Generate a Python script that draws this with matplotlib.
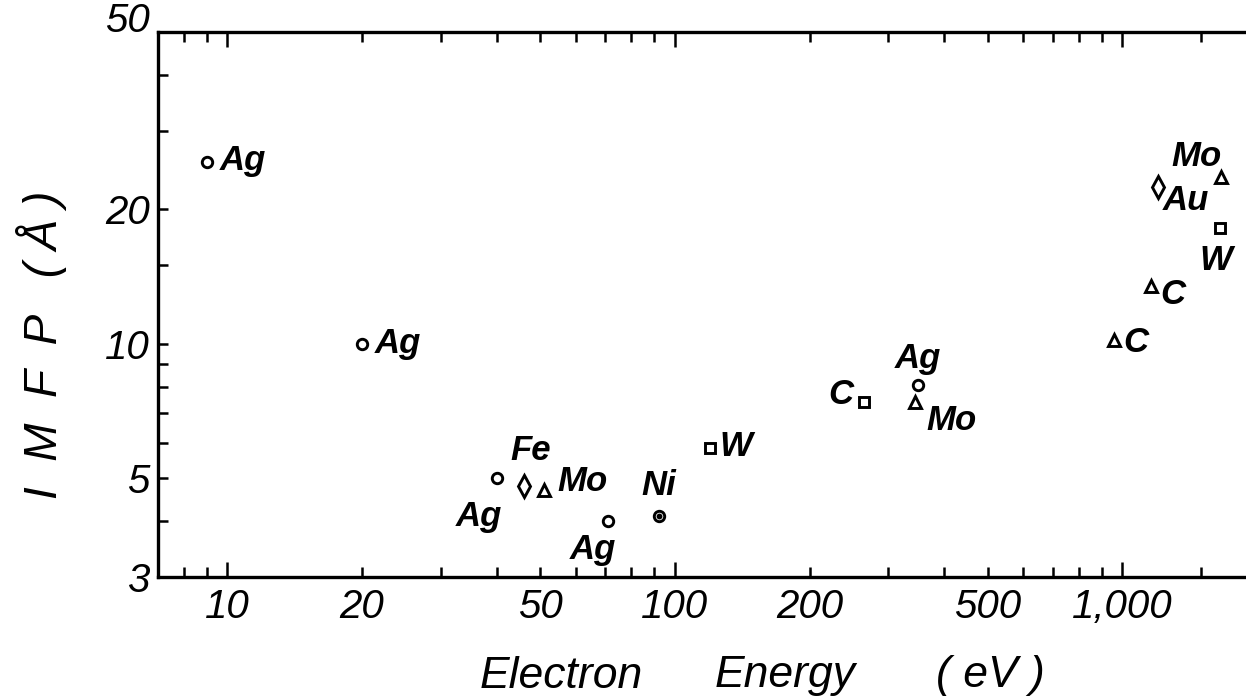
import matplotlib
matplotlib.use('Agg')
import matplotlib.pyplot as plt
from matplotlib.ticker import FixedLocator, NullFormatter
from matplotlib.transforms import ScaledTranslation

plt.rcParams['font.family'] = ['Liberation Sans', 'DejaVu Sans']

# ---------------- data ----------------
elements = ['Ag', 'Ag', 'Ag', 'Fe', 'Mo', 'Ag', 'Ni', 'W',
            'C', 'Ag', 'Mo', 'C', 'C', 'W', 'Au', 'Mo']
energy_eV = [9, 20, 40, 46, 51, 71, 92, 120,
             265, 350, 345, 960, 1160, 1650, 1200, 1660]
imfp_A = [25.5, 10.0, 5.0, 4.8, 4.7, 4.0, 4.1, 5.85,
          7.4, 8.1, 7.4, 10.2, 13.5, 18.2, 22.5, 23.7]
marker_kind = ['o', 'o', 'o', 'd', '^', 'o', 'o.', 's',
               's', 'o', '^', '^', '^', 's', 'd', '^']

x_tick_values = [10, 20, 50, 100, 200, 500, 1000]
x_tick_labels = ['10', '20', '50', '100', '200', '500', '1,000']
x_long_ticks = [10, 100, 1000]
x_minor_values = [8, 9, 30, 40, 60, 70, 80, 90, 300, 400, 600, 700, 800, 900, 1500]
y_tick_values = [3, 5, 10, 20, 50]
y_tick_labels = ['3', '5', '10', '20', '50']
y_minor_values = [4, 6, 7, 8, 9, 15, 30, 40]

# label offsets in pixels relative to the marker (layout only)
label_offsets = [(13, 2, 'left'), (13, 0, 'left'), (-18, -38, 'center'), (7, 35, 'center'),
                 (13, 9, 'left'), (-15, -28, 'center'), (0, 31, 'center'), (9, 1, 'left'),
                 (-11, 8, 'right'), (0, 26, 'center'), (11, -18, 'left'), (9, -3, 'left'),
                 (9, -9, 'left'), (-4, -33, 'center'), (5, -14, 'left'), (-24, 20, 'center')]

# ---------------- figure ----------------
W, H = 1246, 700
fig = plt.figure(figsize=(W / 100, H / 100), dpi=100)
left_px, right_px, top_px, bottom_px = 158, 1257, 32, 577
ax = fig.add_axes([left_px / W, 1 - bottom_px / H,
                   (right_px - left_px) / W, (bottom_px - top_px) / H])
ax.set_xscale('log')
ax.set_yscale('log')
ax.set_xlim(7, 2000)
ax.set_ylim(3, 50)

msizes = {'o': 7.5, '^': 8, 's': 6.5, 'd': 11}
for e, x, y, m, (dx, dy, ha) in zip(elements, energy_eV, imfp_A, marker_kind, label_offsets):
    base = m[0]
    ax.plot([x], [y], linestyle='none', marker=base, markersize=msizes[base],
            markerfacecolor='white', markeredgecolor='black', markeredgewidth=2.1,
            clip_on=False, zorder=3)
    if m == 'o.':
        ax.plot([x], [y], linestyle='none', marker='o', markersize=3.2,
                markerfacecolor='black', markeredgecolor='black', zorder=4, clip_on=False)
    ax.annotate(e, (x, y), xytext=(dx, dy), textcoords='offset pixels',
                ha=ha, va='center', fontsize=25, fontstyle='italic',
                fontweight='bold', color='black')

# ticks
ax.xaxis.set_major_locator(FixedLocator(x_tick_values))
ax.set_xticklabels(x_tick_labels)
ax.xaxis.set_minor_locator(FixedLocator(x_minor_values))
ax.xaxis.set_minor_formatter(NullFormatter())
ax.yaxis.set_major_locator(FixedLocator(y_tick_values))
ax.set_yticklabels(y_tick_labels)
ax.yaxis.set_minor_locator(FixedLocator(y_minor_values))
ax.yaxis.set_minor_formatter(NullFormatter())

ax.tick_params(which='both', direction='in', top=True, right=True,
               width=1.8, color='black')
ax.tick_params(which='major', length=7.5)
ax.tick_params(which='minor', length=7.5)
ax.tick_params(axis='x', which='major', labelsize=29, pad=8)
ax.tick_params(axis='y', which='major', labelsize=29, pad=6)
for lab in ax.get_xticklabels() + ax.get_yticklabels():
    lab.set_fontstyle('italic')

fig.canvas.draw()
for val, t in zip(x_tick_values, ax.xaxis.get_major_ticks()):
    if val in x_long_ticks:
        t.tick1line.set_markersize(11)
        t.tick2line.set_markersize(11)
# the top label "50" sits a little above its tick in the original
for val, t in zip(y_tick_values, ax.yaxis.get_major_ticks()):
    if val == 50:
        t.label1.set_transform(t.label1.get_transform() +
                               ScaledTranslation(0, 15 / 100, fig.dpi_scale_trans))

for sp in ax.spines.values():
    sp.set_linewidth(2.4)

xl_kw = dict(ha='center', va='center', fontsize=32, fontstyle='italic')
fig.text(561 / W, 1 - 676 / H, 'Electron', **xl_kw)
fig.text(785 / W, 1 - 676 / H, 'Energy', **xl_kw)
fig.text(990 / W, 1 - 676 / H, '( eV )', **xl_kw)
fig.text(42 / W, 1 - 345 / H, 'I  M  F  P   ( Å )', ha='center', va='center',
         rotation=90, fontsize=33, fontstyle='italic')

fig.savefig('out.png', dpi=100)
